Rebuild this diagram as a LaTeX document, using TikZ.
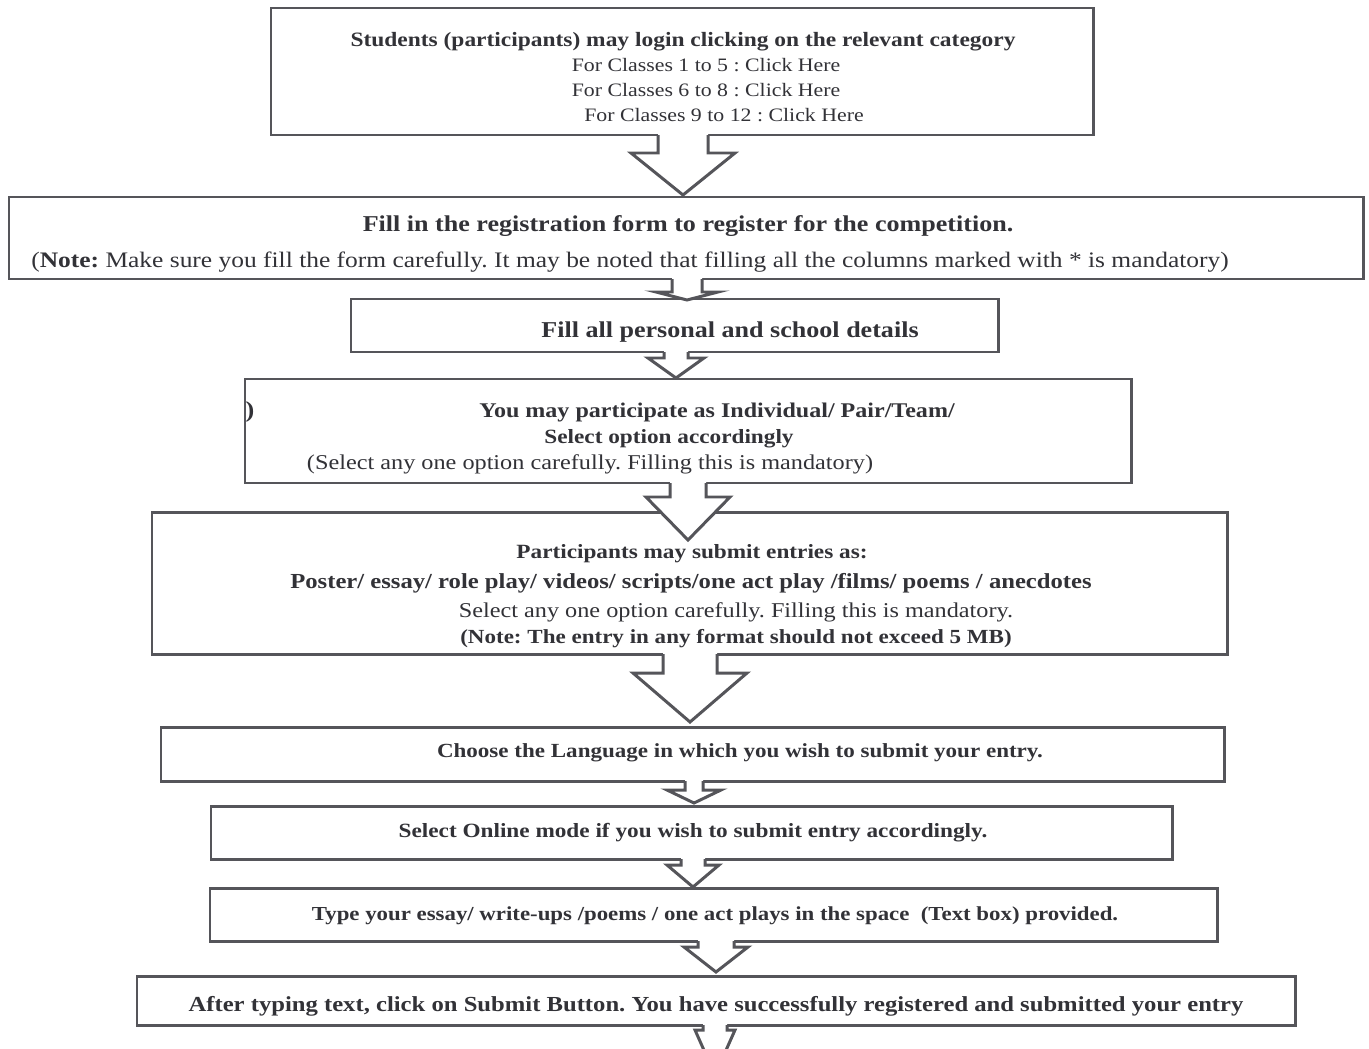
\documentclass[tikz,border=0pt]{standalone}
\usepackage{fontspec}
\setmainfont{Liberation Serif}[FakeStretch=1.15]
\usetikzlibrary{calc,fit}
\frenchspacing

\definecolor{inkgray}{RGB}{50,50,55}
\definecolor{linegray}{RGB}{85,85,90}

\tikzset{
  box/.style={draw=linegray, line width=1.7pt, inner sep=0pt, outer sep=0pt},
  arrowline/.style={draw=linegray, line width=1.7pt, line join=miter},
  txt/.style={text=inkgray, anchor=base, inner sep=0pt},
  rm/.style={txt, font=\fontsize{#1}{#1}\selectfont},
  bf/.style={txt, font=\fontsize{#1}{#1}\selectfont\bfseries},
}

% block arrow: from anchor, to anchor, x, shaft half width, head half width, shaft length, tip offset
\newcommand{\blockarr}[7]{%
  \path (#3,0) coordinate (ax);
  \path (#1 -| ax) coordinate (at);
  \path ($(#2 -| ax)+(0,#7)$) coordinate (ab);
  \fill[white] ($(at)+(-#4,-3)$) -- ($(at)+(-#4,#6)$) -- ($(at)+(-#5,#6)$) -- (ab)
    -- ($(at)+(#5,#6)$) -- ($(at)+(#4,#6)$) -- ($(at)+(#4,-3)$) -- cycle;
  \draw[arrowline] ($(at)+(-#4,0)$) -- ($(at)+(-#4,#6)$) -- ($(at)+(-#5,#6)$) -- (ab)
    -- ($(at)+(#5,#6)$) -- ($(at)+(#4,#6)$) -- ($(at)+(#4,0)$);
}

\begin{document}
\begin{tikzpicture}[x={(0.02cm,0)}, y={(0,-0.02cm)}]
  \useasboundingbox (0,0) rectangle (1369,1048);
  \clip (0,0) rectangle (1369,1048);
  \fill[white] (0,0) rectangle (1369,1048);

  % boxes
  \node[box, fit={(271,8) (1093,135)}] (b1) {};
  \node[box, fit={(9,197) (1363,279)}] (b2) {};
  \node[box, fit={(351,299) (998,352)}] (b3) {};
  \node[box, fit={(245,379) (1131,483)}] (b4) {};
  \node[box, fit={(152,512) (1227,654)}] (b5) {};
  \node[box, fit={(161,727) (1224,781)}] (b6) {};
  \node[box, fit={(211,806) (1172,859)}] (b7) {};
  \node[box, fit={(210,888) (1217,941)}] (b8) {};
  \node[box, fit={(137,976) (1295,1025)}] (b9) {};
  \coordinate (end) at (715,1075);

  % arrows
  \blockarr{b1.south}{b2.north}{683}{25}{52}{18}{-2}
  \blockarr{b2.south}{b3.north}{687}{15}{31}{13}{1}
  \blockarr{b3.south}{b4.north}{676}{12}{28}{6}{-1}
  \blockarr{b4.south}{b5.north}{688}{18}{42}{14}{28}
  \blockarr{b5.south}{b6.north}{690}{27}{57}{19}{-5}
  \blockarr{b6.south}{b7.north}{694}{9}{27}{9}{-3}
  \blockarr{b7.south}{b8.north}{693}{12}{26}{6}{-1}
  \blockarr{b8.south}{b9.north}{716}{18}{32}{6}{-4}
  \blockarr{b9.south}{end}{715}{12}{20}{5}{0}

  % texts
  \node[bf=11.6] (t1a) at (683,46) {Students (participants) may login clicking on the relevant category};
  \node[rm=10.8] (t1b) at (706,71) {For Classes 1 to 5 : Click Here};
  \node[rm=10.8] (t1c) at (706,96) {For Classes 6 to 8 : Click Here};
  \node[rm=10.8] (t1d) at (724,121) {For Classes 9 to 12 : Click Here};

  \node[bf=12.9] (t2a) at (688,231) {Fill in the registration form to register for the competition.};
  \node[rm=12.6] (t2b) at (630,267) {(\textbf{Note:} Make sure you fill the form carefully. It may be noted that filling all the columns marked with * is mandatory)};

  \node[bf=12.9] (t3) at (730,337) {Fill all personal and school details};

  \node[bf=13] (t4x) at (250,417) {)};
  \node[bf=11.9] (t4a) at (717,417) {You may participate as Individual/ Pair/Team/};
  \node[bf=11.5] (t4b) at (669,443) {Select option accordingly};
  \node[rm=12] (t4c) at (590,469) {(Select any one option carefully. Filling this is mandatory)};

  \node[bf=11.5] (t5a) at (692,558) {Participants may submit entries as:};
  \node[bf=12.2] (t5b) at (691,588) {Poster/ essay/ role play/ videos/ scripts/one act play /films/ poems / anecdotes};
  \node[rm=12] (t5c) at (736,617) {Select any one option carefully. Filling this is mandatory.};
  \node[bf=11.4] (t5d) at (736,643) {(Note: The entry in any format should not exceed 5 MB)};

  \node[bf=11.4] (t6) at (740,757) {Choose the Language in which you wish to submit your entry.};
  \node[bf=11.5] (t7) at (693,837) {Select Online mode if you wish to submit entry accordingly.};
  \node[bf=11.3] (t8) at (715,920) {Type your essay/ write-ups /poems / one act plays in the space~ (Text box) provided.};
  \node[bf=12.2] (t9) at (716,1011) {After typing text, click on Submit Button. You have successfully registered and submitted your entry};
\end{tikzpicture}
\end{document}
